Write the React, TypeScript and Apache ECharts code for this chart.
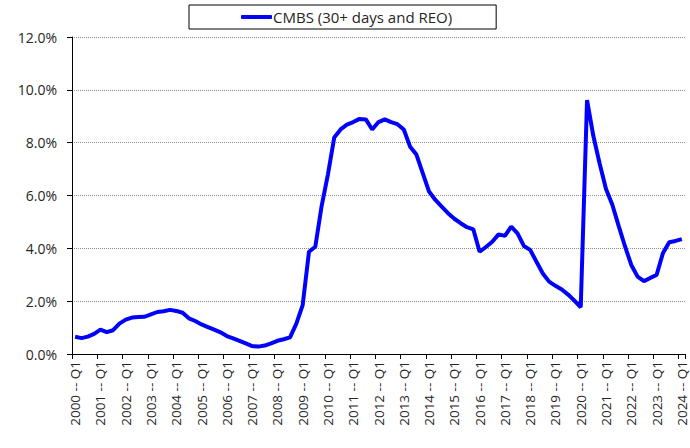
import React, { useEffect, useRef } from "react";
import * as echarts from "echarts";

const startYear = 2000;
const endYear = 2024;
const quarters: string[] = [];
for (let y = startYear; y <= endYear; y++) {
  for (let q = 1; q <= 4; q++) {
    if (y === endYear && q > 1) break;
    quarters.push(`${y} -- Q${q}`);
  }
}

const seriesName = "CMBS (30+ days and REO)";

const delinquencyRate: number[] = [
  0.65, 0.6, 0.66, 0.76, 0.92, 0.83, 0.9, 1.15,
  1.3, 1.38, 1.4, 1.41, 1.5, 1.59, 1.62, 1.67,
  1.63, 1.56, 1.35, 1.25, 1.12, 1.02, 0.92, 0.82,
  0.68, 0.59, 0.5, 0.4, 0.3, 0.28, 0.32, 0.4,
  0.5, 0.56, 0.63, 1.15, 1.85, 3.87, 4.06, 5.6,
  6.8, 8.2, 8.5, 8.68, 8.78, 8.9, 8.88, 8.5,
  8.78, 8.88, 8.78, 8.7, 8.5, 7.85, 7.55, 6.85,
  6.15, 5.83, 5.58, 5.33, 5.12, 4.95, 4.8, 4.72,
  3.87, 4.05, 4.25, 4.53, 4.47, 4.82, 4.57, 4.09,
  3.94, 3.49, 3.05, 2.74, 2.58, 2.44, 2.25, 2.02,
  1.77, 9.61, 8.25, 7.2, 6.25, 5.65, 4.85, 4.08,
  3.37, 2.93, 2.76, 2.88, 2.99, 3.81, 4.23, 4.28,
  4.35,
];

const yMin = 0;
const yMax = 12;
const yStep = 2;

const FONT = "'Open Sans', 'Noto Sans', sans-serif";
const TEXT = "#262626";

export default function App() {
  const ref = useRef<HTMLDivElement>(null);
  useEffect(() => {
    if (!ref.current) return;
    const chart = echarts.init(ref.current, undefined, { renderer: "svg" });
    chart.setOption({
      animation: false,
      backgroundColor: "#ffffff",
      textStyle: { fontFamily: FONT, color: TEXT },
      legend: {
        top: 5,
        left: 189,
        padding: [4, 44, 4, 52],
        borderColor: "#000",
        borderWidth: 1,
        icon: "roundRect",
        itemWidth: 31,
        itemHeight: 4,
        itemGap: 10,
        itemStyle: { color: "#0000ff" },
        textStyle: { fontFamily: FONT, fontSize: 15, color: TEXT, lineHeight: 16, padding: [0, 0, 0, -4] },
        data: [seriesName],
      },
      grid: { left: 72, right: 5, top: 37, bottom: 94, containLabel: false },
      xAxis: {
        type: "category",
        data: quarters,
        boundaryGap: true,
        axisLine: { show: true, lineStyle: { color: "#000", width: 1 } },
        axisTick: { show: true, interval: 3, length: 5, lineStyle: { color: "#000" } },
        axisLabel: {
          interval: 3,
          rotate: 90,
          margin: 7,
          fontFamily: FONT,
          fontSize: 13.5,
          lineHeight: 13,
          color: TEXT,
        },
        splitLine: { show: false },
      },
      yAxis: {
        type: "value",
        min: yMin,
        max: yMax,
        interval: yStep,
        axisLine: { show: true, lineStyle: { color: "#000", width: 1 } },
        axisTick: { show: true, length: 5, lineStyle: { color: "#000" } },
        axisLabel: {
          margin: 15,
          fontFamily: FONT,
          fontSize: 14,
          color: TEXT,
          formatter: (v: number) => `${v.toFixed(1)}%`,
        },
        splitLine: { show: true, lineStyle: { color: "#8c8c8c", type: [1, 1], width: 1 } },
      },
      series: [
        {
          name: seriesName,
          type: "line",
          data: delinquencyRate,
          symbol: "none",
          showSymbol: false,
          lineStyle: { color: "#0000ff", width: 4 },
          itemStyle: { color: "#0000ff" },
          z: 5,
        },
      ],
    });
    return () => chart.dispose();
  }, []);
  return <div ref={ref} style={{ width: 690, height: 448, position: "absolute", left: 0, top: 0 }} />;
}
